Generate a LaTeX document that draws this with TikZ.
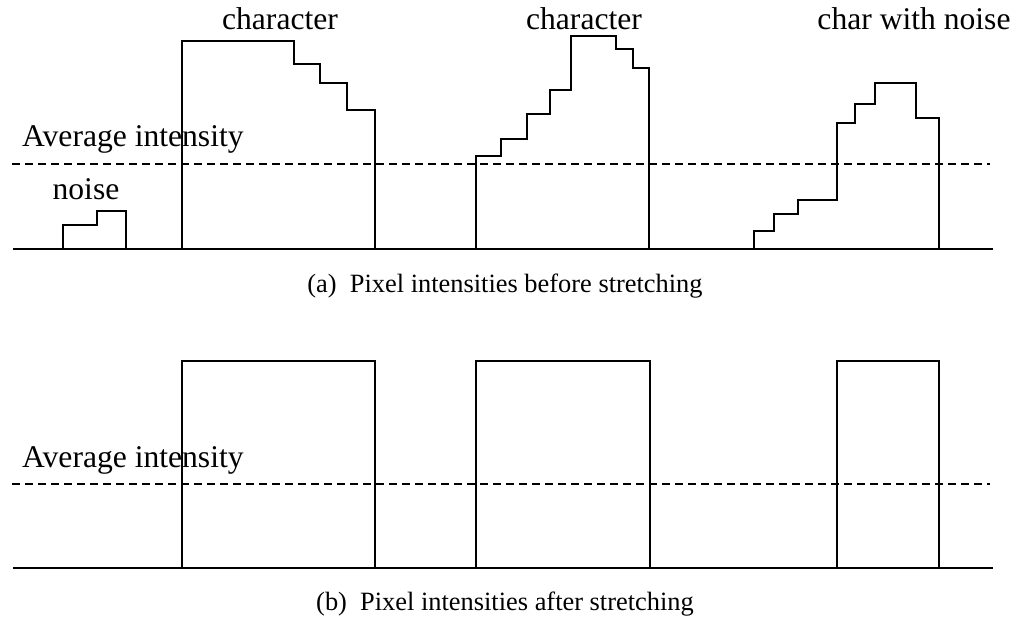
\documentclass[tikz,border=0pt]{standalone}
\usepackage{fontspec}
\setmainfont{Liberation Serif}
\tikzset{
    curve/.style={line width=1.4pt, line join=miter},
    avgline/.style={line width=1.2pt, dash pattern=on 8pt off 5pt},
    lbl/.style={inner sep=0pt, anchor=base, font=\fontsize{31.6}{36}\selectfont},
    capt/.style={inner sep=0pt, anchor=base, font=\fontsize{26.4}{30}\selectfont}
}
\begin{document}
\begin{tikzpicture}[x=1pt,y=-1pt]
    \useasboundingbox (0,0) rectangle (1025,617);
    % (a) before stretching
    \draw[curve] (13,249) -- (993,249);
    \draw[avgline] (12,164) -- (990,164);
    \draw[curve] (63,249) |- (97,225) |- (126,211) -- (126,249);
    \draw[curve] (182,249) |- (294,41) |- (320,64) |- (347,83) |- (375,110) -- (375,249);
    \draw[curve] (476,249) |- (501,156) |- (527,139) |- (550,114) |- (571,90) |- (616,36) |- (633,49) |- (649,68) -- (649,249);
    \draw[curve] (754,249) |- (774,231) |- (798,214) |- (837,200) |- (855,123) |- (875,104) |- (916,83) |- (939,118) -- (939,249);
    \node[lbl] (chara) at (280,30) {character};
    \node[lbl] (charb) at (584,30) {character};
    \node[lbl] (charc) at (914,30) {char with noise};
    \node[lbl] (noise) at (86,200) {noise};
    \node[lbl, anchor=base west] (avga) at (22,147) {Average intensity};
    \node[capt] (capa) at (505,293) {(a)\ \ Pixel intensities before stretching};
    % (b) after stretching
    \draw[curve] (13,568) -- (993,568);
    \draw[avgline] (12,484) -- (990,484);
    \foreach \l/\r in {182/375, 476/650, 837/939}{
        \draw[curve] (\l,568) -- (\l,361) -- (\r,361) -- (\r,568);
    }
    \node[lbl, anchor=base west] (avgb) at (22,467) {Average intensity};
    \node[capt] (capb) at (505,610) {(b)\ \ Pixel intensities after stretching};
\end{tikzpicture}
\end{document}
